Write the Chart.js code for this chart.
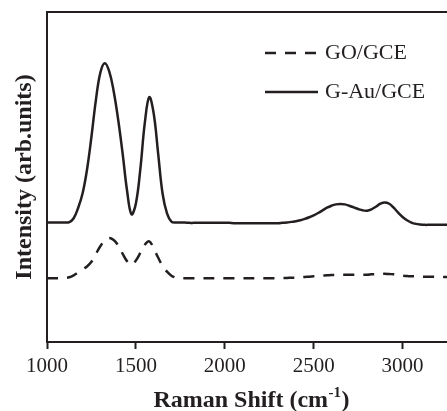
<!DOCTYPE html>
<html>
<head>
<meta charset="utf-8">
<title>Raman spectra GO/GCE and G-Au/GCE</title>
<script src="https://cdn.jsdelivr.net/npm/chart.js@4.4.1/dist/chart.umd.min.js"></script>
<style>
  body { margin: 0; background: #fff; }
</style>
</head>
<body>
<canvas id="chart" width="447" height="411"></canvas>
<script>
// Raman shift (cm-1), every 25 cm-1
var shift = [
  1000, 1025, 1050, 1075, 1100, 1125, 1150, 1175, 1200, 1225,
  1250, 1275, 1300, 1325, 1350, 1375, 1400, 1425, 1450, 1475,
  1500, 1525, 1550, 1575, 1600, 1625, 1650, 1675, 1700, 1725,
  1750, 1775, 1800, 1825, 1850, 1875, 1900, 1925, 1950, 1975,
  2000, 2025, 2050, 2075, 2100, 2125, 2150, 2175, 2200, 2225,
  2250, 2275, 2300, 2325, 2350, 2375, 2400, 2425, 2450, 2475,
  2500, 2525, 2550, 2575, 2600, 2625, 2650, 2675, 2700, 2725,
  2750, 2775, 2800, 2825, 2850, 2875, 2900, 2925, 2950, 2975,
  3000, 3025, 3050, 3075, 3100, 3125, 3150, 3175, 3200, 3225,
  3250
];

// GO/GCE (dashed)
var goGce = [
  19.3, 19.3, 19.3, 19.3, 19.4, 19.6, 20.2, 21.1, 22.0, 22.9,
  24.3, 26.7, 29.0, 30.8, 31.5, 30.9, 29.3, 26.8, 24.5, 23.4,
  24.7, 27.0, 29.5, 30.5, 28.4, 25.6, 23.1, 21.3, 20.1, 19.5,
  19.3, 19.3, 19.3, 19.3, 19.3, 19.3, 19.3, 19.3, 19.3, 19.3,
  19.3, 19.3, 19.3, 19.3, 19.3, 19.3, 19.3, 19.3, 19.3, 19.3,
  19.3, 19.3, 19.3, 19.4, 19.4, 19.5, 19.5, 19.6, 19.7, 19.8,
  19.9, 20.0, 20.1, 20.2, 20.3, 20.3, 20.4, 20.4, 20.4, 20.4,
  20.4, 20.4, 20.4, 20.5, 20.6, 20.7, 20.7, 20.6, 20.5, 20.3,
  20.1, 20.0, 19.9, 19.9, 19.8, 19.8, 19.8, 19.8, 19.7, 19.7,
  19.7
];

// G-Au/GCE (solid)
var gAuGce = [
  36.2, 36.2, 36.2, 36.2, 36.2, 36.3, 37.5, 40.6, 45.0, 52.2,
  62.2, 73.3, 81.6, 84.5, 82.0, 76.0, 67.5, 57.3, 46.0, 38.7,
  42.0, 52.4, 66.3, 74.2, 69.3, 57.2, 45.0, 39.0, 36.5, 36.2,
  36.2, 36.2, 36.1, 36.1, 36.1, 36.1, 36.1, 36.1, 36.1, 36.1,
  36.1, 36.1, 36.0, 36.0, 36.0, 36.0, 36.0, 36.0, 36.0, 36.0,
  36.0, 36.0, 36.0, 36.1, 36.2, 36.4, 36.6, 36.9, 37.3, 37.8,
  38.4, 39.1, 39.9, 40.7, 41.3, 41.7, 41.8, 41.7, 41.3, 40.8,
  40.3, 39.9, 39.8, 40.2, 41.0, 41.9, 42.3, 41.9, 40.7, 39.2,
  37.9, 36.9, 36.2, 35.8, 35.6, 35.5, 35.5, 35.5, 35.5, 35.5,
  35.5
];

var xTicks = [1000, 1500, 2000, 2500, 3000];

var ink = '#231f20';
var serif = '"Liberation Serif", "Times New Roman", serif';

function toPoints(ys) {
    var pts = [];
    for (var i = 0; i < shift.length; i++) {
        pts.push({ x: shift[i], y: ys[i] });
    }
    return pts;
}

// top edge of the box, the legend in the corner and the x title with its superscript
var extras = {
    id: 'extras',
    afterDraw: function(chart) {
        var ctx = chart.ctx;
        var area = chart.chartArea;
        ctx.save();

        ctx.strokeStyle = ink;
        ctx.lineWidth = 2;
        ctx.beginPath();
        ctx.moveTo(area.left - 1, area.top);
        ctx.lineTo(area.right, area.top);
        ctx.stroke();

        // legend
        var rows = [53, 92];
        ctx.font = '22px ' + serif;
        ctx.textBaseline = 'middle';
        ctx.fillStyle = ink;
        chart.data.datasets.forEach(function(ds, i) {
            ctx.lineWidth = 2.5;
            ctx.setLineDash(ds.borderDash || []);
            ctx.beginPath();
            ctx.moveTo(265, rows[i]);
            ctx.lineTo(318, rows[i]);
            ctx.stroke();
            ctx.setLineDash([]);
            ctx.fillText(ds.label, 325, rows[i]);
        });

        // x axis title: Raman Shift (cm^-1)
        var main = 'Raman Shift (cm', sup = '-1', close = ')';
        ctx.textBaseline = 'alphabetic';
        ctx.font = 'bold 24px ' + serif;
        var w1 = ctx.measureText(main).width;
        var w3 = ctx.measureText(close).width;
        ctx.font = 'bold 15px ' + serif;
        var w2 = ctx.measureText(sup).width;
        var x0 = 251 - (w1 + w2 + w3) / 2;
        ctx.font = 'bold 24px ' + serif;
        ctx.fillText(main, x0, 407);
        ctx.fillText(close, x0 + w1 + w2 + 1, 407);
        ctx.font = 'bold 15px ' + serif;
        ctx.fillText(sup, x0 + w1 + 0.5, 397);

        ctx.restore();
    }
};

new Chart(document.getElementById('chart'), {
    type: 'line',
    data: {
        datasets: [
            {
                label: 'GO/GCE',
                data: toPoints(goGce),
                borderColor: ink,
                borderWidth: 2.5,
                borderDash: [11, 9]
            },
            {
                label: 'G-Au/GCE',
                data: toPoints(gAuGce),
                borderColor: ink,
                borderWidth: 2.5
            }
        ]
    },
    options: {
        responsive: false,
        animation: false,
        layout: { padding: { top: 12, right: 0, bottom: 0, left: 0 } },
        elements: {
            point: { radius: 0 },
            line: { tension: 0.4, fill: false }
        },
        plugins: {
            legend: { display: false },
            tooltip: { enabled: false }
        },
        scales: {
            x: {
                type: 'linear',
                min: 1000,
                max: 3250,
                afterBuildTicks: function(scale) {
                    scale.ticks = xTicks.map(function(v) { return { value: v }; });
                },
                afterFit: function(scale) { scale.height = 69; },
                grid: {
                    display: true,
                    drawOnChartArea: false,
                    drawTicks: true,
                    tickLength: 7,
                    tickWidth: 2,
                    tickColor: ink
                },
                border: { display: true, color: ink, width: 2 },
                ticks: {
                    font: { family: serif, size: 21 },
                    color: ink,
                    padding: 5,
                    maxRotation: 0,
                    callback: function(v) { return String(v); }
                }
            },
            y: {
                min: 0,
                max: 100,
                afterFit: function(scale) { scale.width = 47; },
                ticks: { display: false },
                grid: { display: false },
                border: { display: true, color: ink, width: 2 },
                title: {
                    display: true,
                    text: 'Intensity (arb.units)',
                    font: { family: serif, size: 24, weight: 'bold' },
                    color: ink,
                    padding: { top: 10, bottom: 0 }
                }
            }
        }
    },
    plugins: [extras]
});
</script>
</body>
</html>
